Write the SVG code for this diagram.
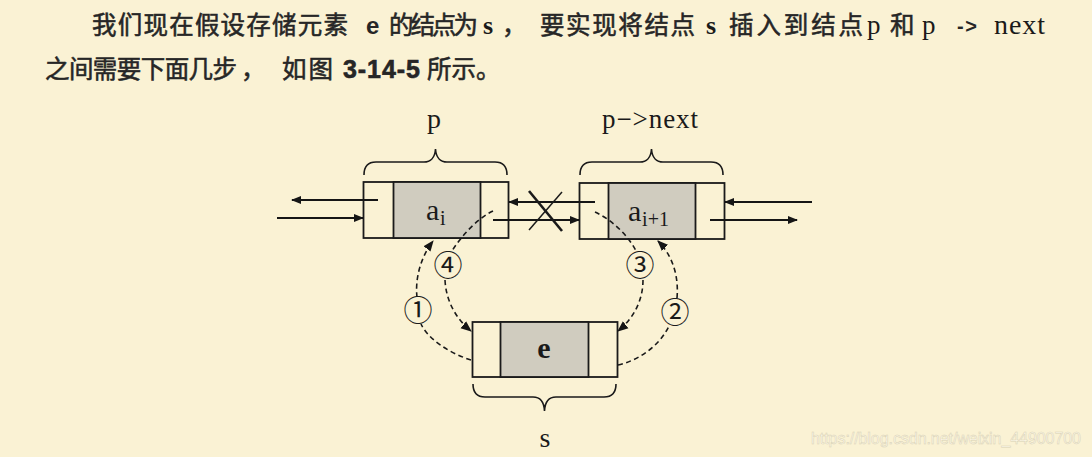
<svg xmlns="http://www.w3.org/2000/svg" width="1092" height="457" viewBox="0 0 1092 457">
<defs>
<marker id="ah" viewBox="0 0 10 10" refX="9" refY="5" markerWidth="10" markerHeight="10" markerUnits="userSpaceOnUse" orient="auto">
<path d="M0,1 L10,5 L0,9 Z" fill="#151515"/>
</marker>
<marker id="ahd" viewBox="0 0 10 10" refX="9" refY="5" markerWidth="11" markerHeight="11" markerUnits="userSpaceOnUse" orient="auto">
<path d="M0,1 L10,5 L0,9 Z" fill="#151515"/>
</marker>
</defs>
<style>
.cj{font-family:"Noto Sans CJK SC","Noto Sans",sans-serif;font-size:24.5px;fill:#262626;stroke:#262626;stroke-width:0.55;}
.ls{font-family:"Liberation Sans",Arial,sans-serif;font-weight:bold;fill:#262626;}
.sr{font-family:"Liberation Serif","Times New Roman",serif;fill:#1a1a1a;}
.cell{fill:none;stroke:#1a1a1a;stroke-width:1.8;}
.data{fill:#d0ccbf;stroke:#1a1a1a;stroke-width:1.8;}
.brace{fill:none;stroke:#1a1a1a;stroke-width:1.6;}
.solid{fill:none;stroke:#151515;stroke-width:1.8;marker-end:url(#ah);}
.dash{fill:none;stroke:#1a1a1a;stroke-width:1.6;stroke-dasharray:5 3.5;}
.dasha{fill:none;stroke:#1a1a1a;stroke-width:1.6;stroke-dasharray:5 3.5;marker-end:url(#ahd);}
.num{font-family:"Noto Sans CJK SC","DejaVu Sans",sans-serif;font-size:29px;fill:#1a1a1a;text-anchor:middle;}
</style>
<rect width="1092" height="457" fill="#faf2d4"/>

<g id="paragraph">
<text class="cj" x="92" y="34" textLength="256">我们现在假设存储元素</text>
<text class="ls" x="366" y="34" font-size="24">e</text>
<text class="cj" x="389" y="34" textLength="89">的结点为</text>
<text class="sr" x="483" y="34" font-size="26" font-weight="bold">s</text>
<text class="cj" x="502" y="34">，</text>
<text class="cj" x="540" y="34" textLength="155">要实现将结点</text>
<text class="sr" x="706" y="34" font-size="26" font-weight="bold">s</text>
<text class="cj" x="729" y="34" textLength="134">插入到结点</text>
<text class="sr" x="867" y="34" font-size="27">p</text>
<text class="cj" x="890" y="34">和</text>
<text class="sr" x="922" y="34" font-size="27">p</text>
<text class="ls" x="957" y="33" font-size="20" textLength="20">-&gt;</text>
<text class="sr" x="994" y="34" font-size="28" textLength="51">next</text>
<text class="cj" x="45" y="78" textLength="192">之间需要下面几步</text>
<text class="cj" x="241" y="78">，</text>
<text class="cj" x="282" y="78" textLength="51">如图</text>
<text class="ls" x="343" y="78" font-size="25" font-weight="normal" stroke="#262626" stroke-width="0.6" textLength="77">3-14-5</text>
<text class="cj" x="427" y="78">所示。</text>
</g>

<g id="node-p">
<rect class="cell" x="363.5" y="182" width="145" height="56"/>
<rect class="data" x="393.5" y="182" width="87" height="56"/>
<text class="sr" x="426" y="220" font-size="30">a</text>
<text class="sr" x="440" y="225" font-size="20">i</text>
<path class="brace" d="M364,175 C364,166 368,162 376,162 L424,162 C430,162 435,158 435.5,149 C436,158 441,162 447,162 L495,162 C503,162 507,166 507,175"/>
<text class="sr" x="434" y="128" font-size="28" text-anchor="middle">p</text>
</g>

<g id="node-pnext">
<rect class="cell" x="579.5" y="183" width="145" height="56"/>
<rect class="data" x="608.5" y="183" width="87" height="56"/>
<text class="sr" x="628" y="221" font-size="30">a</text>
<text class="sr" x="642" y="226" font-size="20" textLength="27">i+1</text>
<path class="brace" d="M580,175 C580,166 584,162 592,162 L640,162 C646,162 651,158 651.5,149 C652,158 657,162 663,162 L711,162 C719,162 723,166 723,175"/>
<text class="sr" x="602" y="128" font-size="27" textLength="96">p−&gt;next</text>
</g>

<g id="node-s">
<rect class="cell" x="472.5" y="322" width="145" height="55"/>
<rect class="data" x="500.5" y="322" width="88" height="55"/>
<text class="sr" x="544" y="358" font-size="30" font-weight="bold" text-anchor="middle">e</text>
<path class="brace" d="M473,384 C473,393 477,397 485,397 L533,397 C539,397 544,401 544.5,411 C545,401 550,397 556,397 L604,397 C612,397 616,393 616,384"/>
<text class="sr" x="545" y="447" font-size="28" text-anchor="middle">s</text>
</g>

<g id="connectors">
<line class="solid" x1="378" y1="200" x2="292" y2="200"/>
<line class="solid" x1="277" y1="218" x2="363" y2="218"/>
<line class="solid" x1="595" y1="202" x2="509" y2="202"/>
<line class="solid" x1="493" y1="220" x2="579" y2="220"/>
<line class="solid" x1="812" y1="202" x2="725" y2="202"/>
<line class="solid" x1="710" y1="220" x2="797" y2="220"/>
<path d="M529,191 L562,231" stroke="#1a1a1a" stroke-width="2.6" fill="none"/>
<path d="M562,192 L529,230" stroke="#1a1a1a" stroke-width="1.5" fill="none"/>
<path class="dash" d="M471,360 C449,353 428,339 421,324"/>
<path class="dasha" d="M417,297 C415,280 420,258 433,241"/>
<path class="dash" d="M493,211 C478,218 462,235 452,251"/>
<path class="dasha" d="M445,280 C446,300 455,318 471,331"/>
<path class="dash" d="M595,212 C612,220 628,235 636,251"/>
<path class="dasha" d="M643,280 C643,300 634,318 618,331"/>
<path class="dash" d="M618,365 C640,360 660,345 669,326"/>
<path class="dasha" d="M677,298 C679,275 672,255 658,241"/>
</g>

<g id="labels">
<text class="num" x="418" y="321">①</text>
<text class="num" x="675" y="323">②</text>
<text class="num" x="640" y="276">③</text>
<text class="num" x="448" y="276">④</text>
</g>

<text x="1081" y="444" font-family="Liberation Sans,Arial,sans-serif" font-size="16" text-anchor="end" textLength="270" fill="#fdf9ea" stroke="#d9d1b3" stroke-width="0.5">https://blog.csdn.net/weixin_44900700</text>
</svg>
